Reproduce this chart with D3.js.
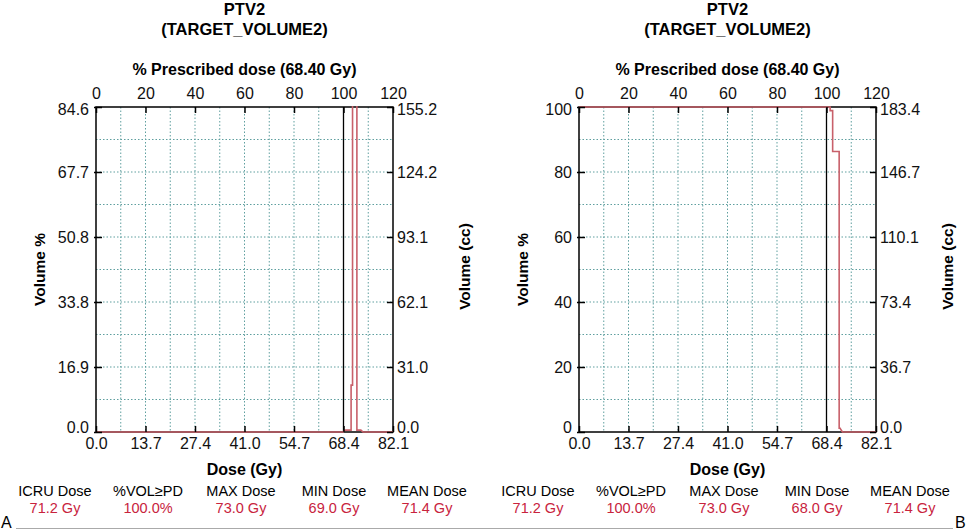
<!DOCTYPE html>
<html lang="en">
<head>
<meta charset="utf-8">
<script src="https://d3js.org/d3.v7.min.js"></script>
<style>
  body { margin: 0; background: #fff; }
  svg { font-family: "Liberation Sans", Arial, Helvetica, sans-serif; }
  .grid line { stroke: #5f9f9f; stroke-width: 1; stroke-dasharray: 1.5,2; }
  .curve { fill: none; stroke: #c8606a; stroke-width: 1.6; }
  .stat-val { fill: #c8233d; }
</style>
</head>
<body>
<script>
// prescribed dose and shared axis labels
const prescribed = 68.4;
const pctTicks = [0, 20, 40, 60, 80, 100, 120];
const doseTickLabels = ["0.0", "13.7", "27.4", "41.0", "54.7", "68.4", "82.1"];
const statLabels = ["ICRU Dose", "%VOL\u2265PD", "MAX Dose", "MIN Dose", "MEAN Dose"];

// panel A
const volMaxA = 84.6;
const volLabelsA = ["0.0", "16.9", "33.8", "50.8", "67.7", "84.6"];
const ccLabelsA = ["0.0", "31.0", "62.1", "93.1", "124.2", "155.2"];
const doseA = [0, 68.3, 68.8, 70.5, 70.5, 70.9, 70.9, 72.1, 72.1, 73.2, 73.8, 82.08];
const volA = [0, 0, 0.5, 0.5, 12.2, 12.2, 100, 100, 0.5, 0.5, 0, 0];
const statsA = ["71.2 Gy", "100.0%", "73.0 Gy", "69.0 Gy", "71.4 Gy"];

// panel B
const volMaxB = 100;
const volLabelsB = ["0", "20", "40", "60", "80", "100"];
const ccLabelsB = ["0.0", "36.7", "73.4", "110.1", "146.7", "183.4"];
const doseB = [0, 69.4, 69.4, 70.1, 70.1, 71.9, 71.9, 72.1, 72.8, 82.08];
const volB = [100, 100, 98.9, 98.9, 86.3, 86.3, 1.2, 1.2, 0, 0];
const statsB = ["71.2 Gy", "100.0%", "73.0 Gy", "68.0 Gy", "71.4 Gy"];

const W = 966, H = 530;
const svg = d3.select("body").append("svg")
  .attr("width", W).attr("height", H);

function drawPanel(id, left, volMax, volLabels, ccLabels, dose, vol, stats) {
  const top = 107, pw = 297, ph = 325;
  const g = svg.append("g").attr("transform", `translate(${left},${top})`);
  const cx = pw / 2;

  const x = d3.scaleLinear().domain([0, 120]).range([0, pw]);
  const y = d3.scaleLinear().domain([0, volMax]).range([ph, 0]);
  const yTicks = d3.range(6).map(i => i * volMax / 5);

  // grid
  const grid = g.append("g").attr("class", "grid");
  grid.selectAll(".gv").data(d3.range(10, 120, 10)).join("line")
    .attr("x1", d => x(d)).attr("x2", d => x(d))
    .attr("y1", 0).attr("y2", ph);
  grid.selectAll(".gh").data(d3.range(1, 10).map(i => i * volMax / 10)).join("line")
    .attr("x1", 0).attr("x2", pw)
    .attr("y1", d => y(d)).attr("y2", d => y(d));

  // prescription line
  g.append("line")
    .attr("x1", x(100)).attr("x2", x(100))
    .attr("y1", 0).attr("y2", ph)
    .attr("stroke", "#000").attr("stroke-width", 1.3);

  // frame
  g.append("rect").attr("width", pw).attr("height", ph)
    .attr("fill", "none").attr("stroke", "#000").attr("stroke-width", 1.5);

  // curve on top of the frame, clipped just outside it
  g.append("clipPath").attr("id", "clip" + id)
    .append("rect").attr("x", 0).attr("y", -1).attr("width", pw).attr("height", ph + 2);
  const pts = dose.map((d, i) => [d / prescribed * 100, vol[i]]);
  g.append("path").datum(pts)
    .attr("class", "curve")
    .attr("clip-path", `url(#clip${id})`)
    .attr("d", d3.line().x(d => x(d[0])).y(d => y(d[1])));

  // top axis: % prescribed dose
  const topAx = g.append("g").call(d3.axisTop(x).tickValues(pctTicks).tickSize(-6).tickPadding(8));
  // bottom axis: dose in Gy
  const botAx = g.append("g").attr("transform", `translate(0,${ph})`)
    .call(d3.axisBottom(x).tickValues(pctTicks).tickSize(-6).tickPadding(6)
      .tickFormat((d, i) => doseTickLabels[i]));
  // left axis: volume %
  const leftAx = g.append("g")
    .call(d3.axisLeft(y).tickValues(yTicks).tickSize(2).tickPadding(5)
      .tickFormat((d, i) => volLabels[i]));
  leftAx.selectAll(".tick line").attr("x2", 6).attr("x1", -2);
  // right axis: volume cc
  const rightAx = g.append("g").attr("transform", `translate(${pw},0)`)
    .call(d3.axisRight(y).tickValues(yTicks).tickSize(-6).tickPadding(4)
      .tickFormat((d, i) => ccLabels[i]));

  [topAx, botAx, leftAx, rightAx].forEach(a => {
    a.select(".domain").remove();
    a.selectAll(".tick line").attr("stroke", "#000").attr("stroke-width", 1.5);
    a.selectAll(".tick text").attr("fill", "#111")
      .style("font-size", "16px").style("font-family", "Liberation Sans, Arial, sans-serif");
  });
  // corner labels sit a little off the frame like the original
  const cornerDy = (d, i) => i === 0 ? "0.02em" : (i === 5 ? "0.45em" : "0.32em");
  leftAx.selectAll(".tick text").attr("dy", cornerDy);
  rightAx.selectAll(".tick text").attr("dy", cornerDy);
  topAx.selectAll(".tick text").attr("dy", "0em");

  // titles
  g.append("text").attr("x", cx).attr("y", 15 - top)
    .attr("text-anchor", "middle").style("font-size", "16.5px").style("font-weight", "bold")
    .text("PTV2");
  g.append("text").attr("x", cx).attr("y", 35 - top)
    .attr("text-anchor", "middle").style("font-size", "16.5px").style("font-weight", "bold")
    .text("(TARGET_VOLUME2)");
  g.append("text").attr("x", cx).attr("y", 75 - top)
    .attr("text-anchor", "middle").style("font-size", "16px").style("font-weight", "bold")
    .text("% Prescribed dose (68.40 Gy)");
  g.append("text").attr("x", cx).attr("y", ph + 43)
    .attr("text-anchor", "middle").style("font-size", "16px").style("font-weight", "bold")
    .text("Dose (Gy)");
  g.append("text").attr("transform", `translate(-51,${ph / 2}) rotate(-90)`)
    .attr("text-anchor", "middle").style("font-size", "15.5px").style("font-weight", "bold")
    .text("Volume %");
  g.append("text").attr("transform", `translate(${pw + 77},${ph / 2 - 3}) rotate(-90)`)
    .attr("text-anchor", "middle").style("font-size", "15.5px").style("font-weight", "bold")
    .text("Volume (cc)");

  // stats row
  const sx = d3.scalePoint().domain(statLabels).range([-41, 331]);
  const st = g.append("g");
  st.selectAll(".stat-lab").data(statLabels).join("text")
    .attr("x", d => sx(d)).attr("y", 496 - top)
    .attr("text-anchor", "middle").style("font-size", "14.5px")
    .text(d => d);
  st.selectAll(".stat-val").data(stats).join("text")
    .attr("class", "stat-val")
    .attr("x", (d, i) => sx(statLabels[i])).attr("y", 513 - top)
    .attr("text-anchor", "middle").style("font-size", "14.5px")
    .text(d => d);
}

drawPanel("A", 96, volMaxA, volLabelsA, ccLabelsA, doseA, volA, statsA);
drawPanel("B", 579, volMaxB, volLabelsB, ccLabelsB, doseB, volB, statsB);

// panel letters and the rule under the figure
svg.append("text").attr("x", 1).attr("y", 528).style("font-size", "16px").text("A");
svg.append("text").attr("x", 955).attr("y", 528).style("font-size", "16px").text("B");
svg.append("line").attr("x1", 16).attr("x2", 953).attr("y1", 528.5).attr("y2", 528.5)
  .attr("stroke", "#aaa").attr("stroke-width", 1.2);
</script>
</body>
</html>
